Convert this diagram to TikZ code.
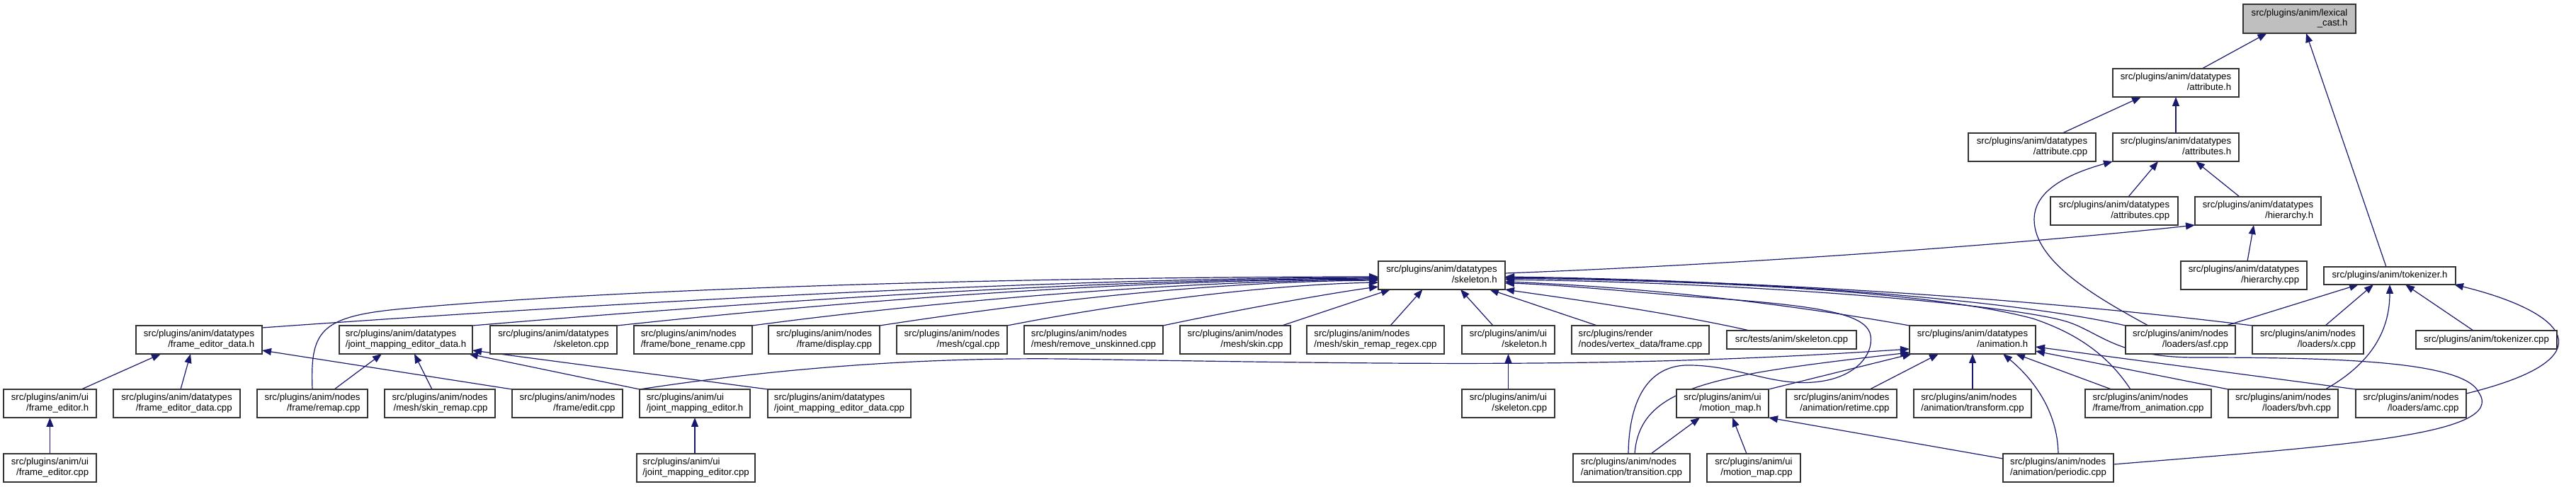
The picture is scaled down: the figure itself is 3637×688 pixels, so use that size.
\documentclass[tikz,border=0pt]{standalone}
\usepackage{fontspec}
\newfontfamily\lsans{Liberation Sans}
\usetikzlibrary{arrows.meta,calc}
\definecolor{navy}{RGB}{25,25,112}
\definecolor{lexgray}{RGB}{191,191,191}
\pgfdeclarelayer{bg}
\pgfsetlayers{bg,main}
\newcommand\tl[2]{\begin{tabular}{@{}l@{}}#1\\\hfill#2\hfill\end{tabular}}
\newcommand\bx[7][]{\node[box,#1,minimum width={(#5-#3)*0.5pt},minimum height={(#6-#4)*0.5pt}] (#2) at ({(#3+#5)/2},{(#4+#6)/2}) {#7};}
\tikzset{
  box/.style={draw=black!80, fill=white, line width=0.65pt, inner sep=0pt, outer sep=0pt,
    font=\lsans\fontsize{6.6pt}{7.15pt}\selectfont},
  dep/.style={draw=navy, line width=0.6pt, -{Triangle[length=6.5pt,width=5pt]}}
}
\begin{document}
\begin{tikzpicture}[x=0.5pt,y=-0.5pt]
\useasboundingbox (0,0) rectangle (3637,688);
% row 0-4
\bx[fill=lexgray]{lex}{3167}{6}{3326}{47}{\tl{src/plugins/anim/lexical}{\_cast.h}}
\bx{attrh}{2983}{97}{3161}{137}{\tl{src/plugins/anim/datatypes}{/attribute.h}}
\bx{attrcpp}{2779}{188}{2959}{228}{\tl{src/plugins/anim/datatypes}{/attribute.cpp}}
\bx{attrsh}{2983}{188}{3161}{228}{\tl{src/plugins/anim/datatypes}{/attributes.h}}
\bx{attrscpp}{2895}{278}{3075}{318}{\tl{src/plugins/anim/datatypes}{/attributes.cpp}}
\bx{hierh}{3099}{278}{3277}{318}{\tl{src/plugins/anim/datatypes}{/hierarchy.h}}
\bx{skelh}{1946}{369}{2125}{409}{\tl{src/plugins/anim/datatypes}{/skeleton.h}}
\bx{hiercpp}{3079}{369}{3257}{409}{\tl{src/plugins/anim/datatypes}{/hierarchy.cpp}}
\bx{tokh}{3281}{377}{3467}{402}{src/plugins/anim/tokenizer.h}
% row 5
\bx{fedh}{192}{460}{370}{500}{\tl{src/plugins/anim/datatypes}{/frame\_editor\_data.h}}
\bx{jmedh}{479}{460}{667}{500}{\tl{src/plugins/anim/datatypes}{/joint\_mapping\_editor\_data.h}}
\bx{skelcpp}{692}{460}{871}{500}{\tl{src/plugins/anim/datatypes}{/skeleton.cpp}}
\bx{bone}{895}{460}{1062}{500}{\tl{src/plugins/anim/nodes}{/frame/bone\_rename.cpp}}
\bx{display}{1085}{460}{1242}{500}{\tl{src/plugins/anim/nodes}{/frame/display.cpp}}
\bx{cgal}{1266}{460}{1422}{500}{\tl{src/plugins/anim/nodes}{/mesh/cgal.cpp}}
\bx{remunsk}{1446}{460}{1642}{500}{\tl{src/plugins/anim/nodes}{/mesh/remove\_unskinned.cpp}}
\bx{skin}{1666}{460}{1822}{500}{\tl{src/plugins/anim/nodes}{/mesh/skin.cpp}}
\bx{skinrr}{1845}{460}{2039}{500}{\tl{src/plugins/anim/nodes}{/mesh/skin\_remap\_regex.cpp}}
\bx{uiskelh}{2064}{460}{2195}{500}{\tl{src/plugins/anim/ui}{/skeleton.h}}
\bx{vframe}{2219}{460}{2413}{500}{\tl{src/plugins/render}{/nodes/vertex\_data/frame.cpp}}
\bx{tskel}{2438}{467}{2621}{493}{src/tests/anim/skeleton.cpp}
\bx{animh}{2696}{460}{2874}{500}{\tl{src/plugins/anim/datatypes}{/animation.h}}
\bx{asf}{3001}{460}{3156}{500}{\tl{src/plugins/anim/nodes}{/loaders/asf.cpp}}
\bx{xcpp}{3180}{460}{3337}{500}{\tl{src/plugins/anim/nodes}{/loaders/x.cpp}}
\bx{tokcpp}{3411}{467}{3610}{493}{src/plugins/anim/tokenizer.cpp}
% row 6
\bx{feh}{5}{550}{136}{590}{\tl{src/plugins/anim/ui}{/frame\_editor.h}}
\bx{fedcpp}{160}{550}{339}{590}{\tl{src/plugins/anim/datatypes}{/frame\_editor\_data.cpp}}
\bx{remap}{363}{550}{519}{590}{\tl{src/plugins/anim/nodes}{/frame/remap.cpp}}
\bx{skinremap}{543}{550}{699}{590}{\tl{src/plugins/anim/nodes}{/mesh/skin\_remap.cpp}}
\bx{edit}{723}{550}{879}{590}{\tl{src/plugins/anim/nodes}{/frame/edit.cpp}}
\bx{jmeh}{903}{550}{1059}{590}{\tl{src/plugins/anim/ui}{/joint\_mapping\_editor.h}}
\bx{jmedcpp}{1084}{550}{1286}{590}{\tl{src/plugins/anim/datatypes}{/joint\_mapping\_editor\_data.cpp}}
\bx{uiskelcpp}{2064}{550}{2195}{590}{\tl{src/plugins/anim/ui}{/skeleton.cpp}}
\bx{mmh}{2367}{550}{2497}{590}{\tl{src/plugins/anim/ui}{/motion\_map.h}}
\bx{retime}{2522}{550}{2678}{590}{\tl{src/plugins/anim/nodes}{/animation/retime.cpp}}
\bx{transform}{2702}{550}{2868}{590}{\tl{src/plugins/anim/nodes}{/animation/transform.cpp}}
\bx{fromanim}{2944}{550}{3122}{590}{\tl{src/plugins/anim/nodes}{/frame/from\_animation.cpp}}
\bx{bvh}{3146}{550}{3301}{590}{\tl{src/plugins/anim/nodes}{/loaders/bvh.cpp}}
\bx{amc}{3326}{550}{3482}{590}{\tl{src/plugins/anim/nodes}{/loaders/amc.cpp}}
% row 7
\bx{fecpp}{5}{641}{136}{681}{\tl{src/plugins/anim/ui}{/frame\_editor.cpp}}
\bx{jmecpp}{899}{641}{1066}{681}{\tl{src/plugins/anim/ui}{/joint\_mapping\_editor.cpp}}
\bx{transition}{2221}{641}{2386}{681}{\tl{src/plugins/anim/nodes}{/animation/transition.cpp}}
\bx{mmcpp}{2410}{641}{2542}{681}{\tl{src/plugins/anim/ui}{/motion\_map.cpp}}
\bx{periodic}{2828}{641}{2984}{681}{\tl{src/plugins/anim/nodes}{/animation/periodic.cpp}}

\begin{pgfonlayer}{bg}
% top part
\draw[dep] ($(attrh.north)+(37,0)$) -- ($(lex.south)+(-46,0)$);
\draw[dep] ($(tokh.north)+(-5,0)$) -- ($(lex.south)+(9.5,0)$);
\draw[dep] ($(attrcpp.north)+(43,0)$) -- ($(attrh.south)+(-49,0)$);
\draw[dep] (attrsh.north) -- (attrh.south);
\draw[dep] ($(attrscpp.north)+(20,0)$) -- ($(attrsh.south)+(-25,0)$);
\draw[dep] ($(hierh.north)+(-26,0)$) -- ($(attrsh.south)+(28,0)$);
\draw[dep] ($(asf.north)+(-45.5,0)$) .. controls (2960,420) and (2872,370) .. (2872,310) .. controls (2872,265) and (2930,243) .. (attrsh.south west);
\draw[dep] ($(skelh.east)+(0,-3)$) .. controls (2500,372) and (2900,340) .. (hierh.south west);
\draw[dep] ($(hiercpp.north)+(5,0)$) -- ($(hierh.south)+(-6,0)$);
% tokenizer.h
\draw[dep] ($(asf.north)+(64.5,0)$) -- ($(tokh.south)+(-44,0)$);
\draw[dep] ($(xcpp.north)+(24.5,0)$) -- ($(tokh.south)+(-23,0)$);
\draw[dep] ($(bvh.north)+(59.5,0)$) .. controls (3345,515) and (3374,470) .. (tokh.south);
\draw[dep] ($(tokcpp.north)+(-18.5,0)$) -- ($(tokh.south)+(22,0)$);
\draw[dep] ($(amc.north east)+(0,6)$) .. controls (3690,505) and (3620,440) .. ($(tokh.south east)+(-2,0)$);
% skeleton.h, from the left
\draw[dep] (remap.north) .. controls (438,470) and (450,448) .. (560,437) .. controls (900,405) and (1500,391) .. ($(skelh.west)+(0,2)$);
\draw[dep] ($(fedh.north east)+(0,3)$) .. controls (900,425) and (1500,393) .. ($(skelh.west)+(0,3)$);
\draw[dep] (jmedh.north east) .. controls (1000,432) and (1500,395) .. ($(skelh.west)+(0,4)$);
\draw[dep] (skelcpp.north east) .. controls (1150,430) and (1550,396) .. ($(skelh.west)+(0,5)$);
\draw[dep] (bone.north east) .. controls (1300,428) and (1650,397) .. ($(skelh.west)+(0,6)$);
\draw[dep] (display.north east) .. controls (1450,428) and (1700,398) .. ($(skelh.west)+(0,7)$);
\draw[dep] (cgal.north east) .. controls (1600,425) and (1800,402) .. ($(skelh.west)+(0,10)$);
\draw[dep] (remunsk.north east) .. controls (1750,437) and (1880,414) .. ($(skelh.west)+(0,16)$);
\draw[dep] ($(skin.north east)+(-12,0)$) -- ($(skelh.south west)+(17,0)$);
\draw[dep] ($(skinrr.north)+(21,0)$) -- ($(skelh.south)+(-27,0)$);
\draw[dep] ($(uiskelh.north)+(-21.5,0)$) -- ($(skelh.south)+(26.5,0)$);
\draw[dep] ($(vframe.north)+(-61,0)$) -- ($(skelh.south)+(67.5,0)$);
% skeleton.h, from the right
\draw[dep] ($(tskel.north)+(-59.5,0)$) .. controls (2350,440) and (2200,420) .. (skelh.south east);
\draw[dep] (animh.north west) .. controls (2500,425) and (2300,405) .. ($(skelh.east)+(0,9)$);
\draw[dep] ($(transition.north)+(-4.5,0)$) .. controls (2300,560) and (2330,518) .. (2380,516)
   .. controls (2450,515) and (2500,545) .. (2560,540)
   .. controls (2625,535) and (2648,495) .. (2640,470)
   .. controls (2630,445) and (2580,432) .. (2400,420)
   .. controls (2300,412) and (2200,402) .. ($(skelh.east)+(0,11)$);
\draw[dep] (asf.north west) .. controls (2850,425) and (2500,396) .. ($(skelh.east)+(0,2)$);
\draw[dep] (xcpp.north west) .. controls (2900,425) and (2500,396) .. ($(skelh.east)+(0,3)$);
\draw[dep] ($(fromanim.north)+(-25,0)$) .. controls (2975,500) and (2930,470) .. (2870,450)
   .. controls (2750,418) and (2500,398) .. ($(skelh.east)+(0,4)$);
\draw[dep] ($(periodic.east)+(0,-5)$) .. controls (3300,630) and (3540,615) .. (3500,555)
   .. controls (3480,510) and (3300,505) .. (3100,505)
   .. controls (2990,505) and (2965,470) .. (2920,455)
   .. controls (2850,432) and (2500,400) .. ($(skelh.east)+(0,6)$);
% row 5 -> row 6 (left)
\draw[dep] ($(feh.north)+(44.5,0)$) -- ($(fedh.south)+(-54,0)$);
\draw[dep] ($(fedcpp.north)+(5.5,0)$) -- ($(fedh.south)+(-12,0)$);
\draw[dep] (edit.north west) -- ($(fedh.south east)+(0,-5)$);
\draw[dep] ($(remap.north)+(31,0)$) -- ($(jmedh.south)+(-34,0)$);
\draw[dep] ($(skinremap.north)+(-11,0)$) -- ($(jmedh.south)+(12,0)$);
\draw[dep] (jmeh.north west) -- ($(jmedh.south east)+(-5,0)$);
\draw[dep] (jmedcpp.north west) -- ($(jmedh.east)+(0,15)$);
\draw[dep] (jmeh.north west) .. controls (1100,520) and (1300,505) .. (1500,507)
   .. controls (2000,515) and (2300,520) .. ($(animh.west)+(0,13)$);
\draw[dep] (fecpp.north) -- (feh.south);
\draw[dep] (jmecpp.north -| jmeh.south) -- (jmeh.south);
\draw[dep] (uiskelcpp.north) -- (uiskelh.south);
% animation.h
\draw[dep] (mmh.north east) -- ($(animh.south west)+(3,0)$);
\draw[dep] ($(transition.north)+(4.5,0)$) .. controls (2315,545) and (2420,530) .. ($(animh.south west)+(0,-2)$);
\draw[dep] ($(retime.north)+(40,0)$) -- ($(animh.south)+(-48,0)$);
\draw[dep] (transform.north) -- (animh.south);
\draw[dep] (periodic.north) .. controls (2905,580) and (2870,535) .. ($(animh.south)+(43,0)$);
\draw[dep] ($(fromanim.north)+(-52,0)$) -- ($(animh.south)+(61,0)$);
\draw[dep] (bvh.north west) -- ($(animh.south east)+(0,-4)$);
\draw[dep] (amc.north west) -- ($(animh.south east)+(0,-10)$);
% motion_map.h
\draw[dep] ($(transition.north)+(27.5,0)$) -- ($(mmh.south)+(-32,0)$);
\draw[dep] ($(mmcpp.north)+(-10,0)$) -- ($(mmh.south)+(14,0)$);
\draw[dep] ($(periodic.north west)+(0,7)$) -- (mmh.south east);
\end{pgfonlayer}
\end{tikzpicture}
\end{document}
